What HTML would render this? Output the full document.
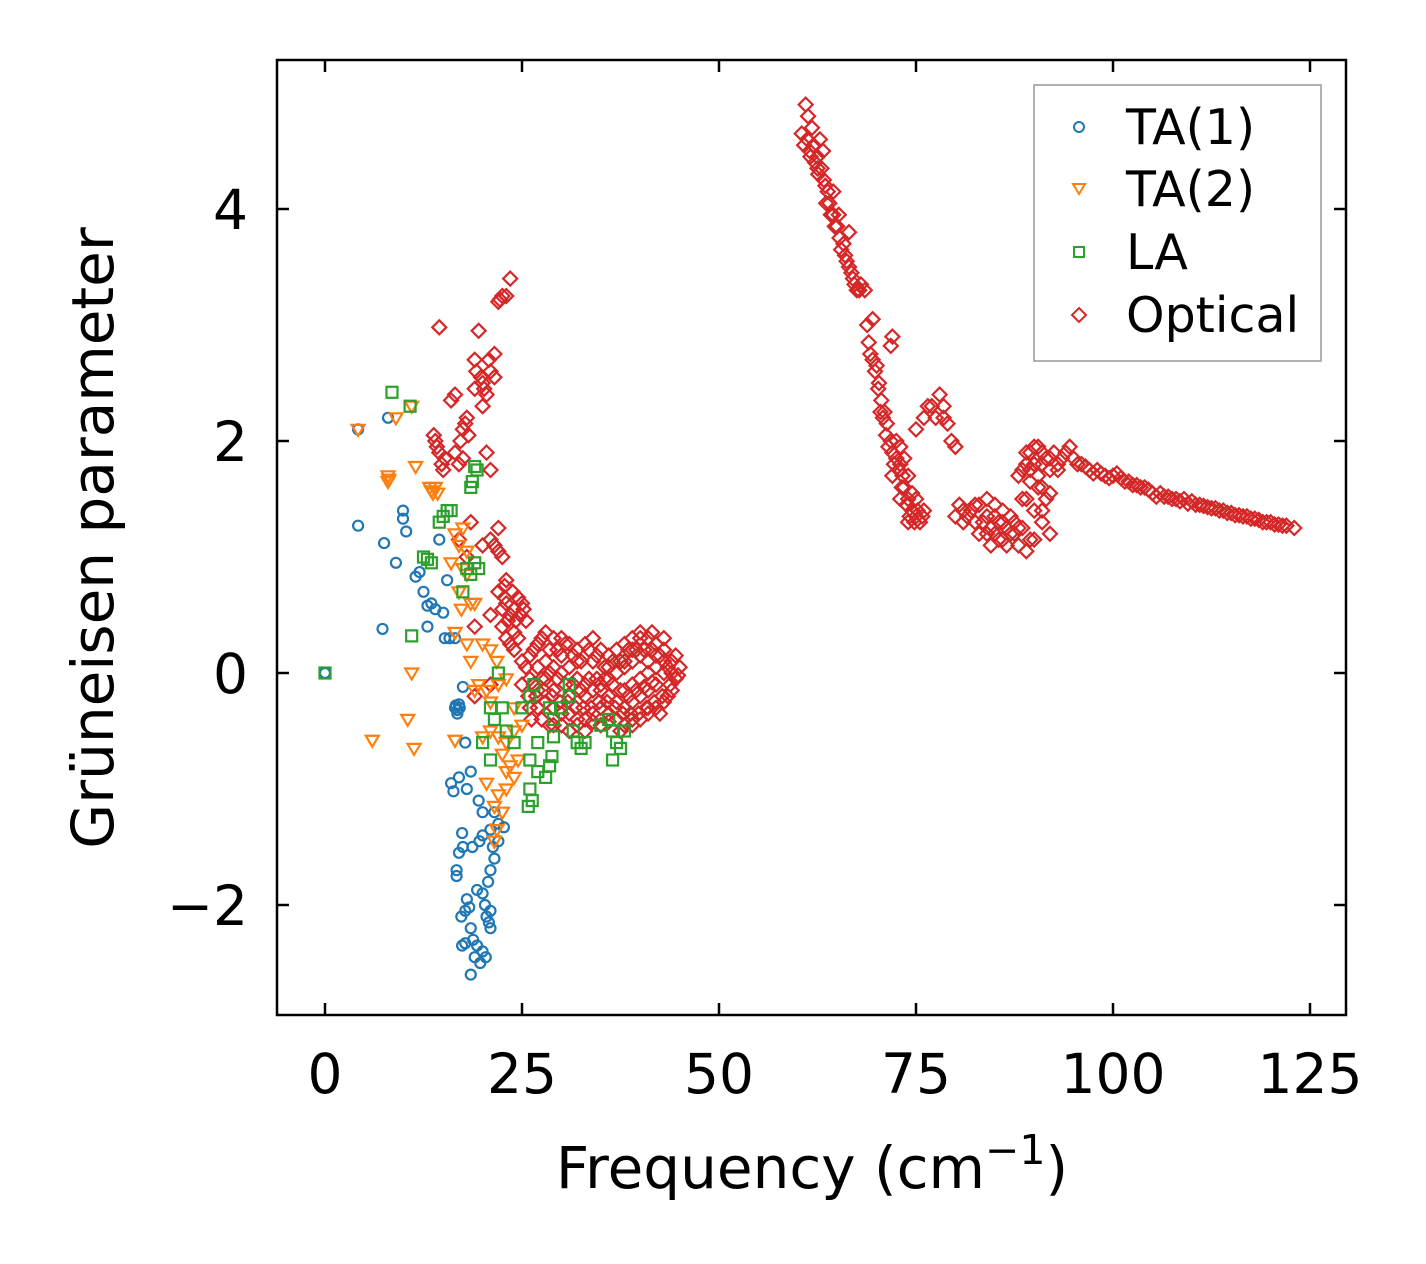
<!DOCTYPE html>
<html><head><meta charset="utf-8"><style>
body{margin:0;background:#fff}
svg{display:block}
text{font-family:"DejaVu Sans","Liberation Sans",sans-serif;fill:#000}
</style></head><body>
<svg id="chart" width="1426" height="1264" viewBox="0 0 1426 1264" xmlns="http://www.w3.org/2000/svg">
<rect x="0" y="0" width="1426" height="1264" fill="#fff"/>
<g id="marks"></g>
<rect x="277" y="60" width="1069" height="955" fill="none" stroke="#000" stroke-width="2.5"/>
<g id="axes"></g>
<text x="812" y="1188" font-size="58" text-anchor="middle">Frequency (cm<tspan dy="-24" font-size="41">−1</tspan><tspan dy="24">)</tspan></text>
<text transform="translate(113,538) rotate(-90)" font-size="58" text-anchor="middle">Grüneisen parameter</text>
<g>
<rect x="1034" y="85" width="287" height="276" fill="#fff" stroke="#999" stroke-width="1.5"/>
<circle cx="1079" cy="127" r="5" fill="none" stroke="#1f77b4" stroke-width="2"/>
<text x="1126" y="144" font-size="49">TA(1)</text>
<path d="M1073,184 L1085,184 L1079,194 Z" fill="none" stroke="#ff7f0e" stroke-width="2"/>
<text x="1126" y="206" font-size="49">TA(2)</text>
<rect x="1074" y="247" width="10" height="10" fill="none" stroke="#2ca02c" stroke-width="2"/>
<text x="1126" y="269" font-size="49">LA</text>
<path d="M1079,308 L1086,315 L1079,322 L1072,315 Z" fill="none" stroke="#d62728" stroke-width="2"/>
<text x="1126" y="332" font-size="49">Optical</text>
</g>
</svg>
<script>
const xTicks=[0,25,50,75,100,125];
const yTicks=[-2,0,2,4];
const yTickLabels=["−2","0","2","4"];
const ta1=[[0,0],[4.2,2.1],[8,2.2],[4.2,1.27],[7.5,1.12],[9,0.95],[9.9,1.4],[9.9,1.33],[10.3,1.22],[11.5,0.83],[12,0.87],[12.5,0.7],[13,0.58],[13.5,0.6],[14,0.55],[14.5,1.15],[15,0.52],[15.5,0.8],[15.2,0.3],[15.8,0.3],[16.5,0.3],[7.3,0.38],[13,0.4],[16.5,-0.3],[16.8,-0.35],[17,-0.27],[17.5,-0.12],[17.8,-0.6],[16,-0.95],[16.3,-1.02],[17,-0.9],[18.5,-0.85],[19.5,-1.1],[18,-1.0],[20,-1.2],[17.4,-1.38],[17.5,-1.5],[17,-1.55],[18.7,-1.5],[19.6,-1.45],[20,-1.4],[21,-1.35],[21.5,-1.2],[22,-1.3],[22.7,-1.33],[21.5,-1.6],[21,-1.7],[20.7,-1.8],[20,-1.9],[19.3,-1.87],[20.3,-2.0],[20.5,-2.1],[20.8,-2.15],[21,-2.2],[21,-2.05],[16.7,-1.75],[16.7,-1.7],[17.3,-2.1],[17.8,-2.05],[18.3,-2.02],[17.4,-2.35],[17.8,-2.33],[18.5,-2.2],[18.8,-2.3],[19.3,-2.35],[19,-2.45],[19.7,-2.5],[20.4,-2.45],[20,-2.4],[18.5,-2.6],[18,-1.95],[21.3,-1.5],[22,-1.45],[16.8,-0.32],[17.1,-0.3],[16.6,-0.28]];
const ta2=[[4.2,2.1],[8,1.65],[8,1.7],[9,2.2],[11,2.3],[11.5,1.78],[13.3,1.6],[13.7,1.55],[14,1.6],[14.3,1.55],[16.5,1.2],[17,1.1],[17.5,1.25],[18,1.05],[16,0.95],[17.5,0.9],[18,0.85],[17,0.7],[17.3,0.55],[18.5,0.6],[19,0.6],[16.5,0.35],[18,0.25],[20,0.25],[21,0.2],[18.5,0.1],[21.8,0.1],[11,0],[10.5,-0.4],[11.3,-0.65],[6,-0.58],[16.5,-0.58],[19.5,-0.1],[20.5,-0.15],[21,-0.25],[22,-0.1],[23,-0.05],[20,-0.55],[21,-0.5],[22,-0.55],[23,-0.6],[24,-0.5],[25,-0.45],[24,-0.3],[22.5,-0.7],[23.5,-0.8],[24,-0.9],[23,-1.0],[22,-1.05],[21.5,-1.15],[22.5,-1.2],[21.8,-1.35],[21.5,-1.45],[24.5,-0.75],[23,-0.85],[20.5,-0.95],[19,-0.15],[13.5,1.57],[8.1,1.67]];
const la=[[0,0],[8.5,2.42],[10.8,2.3],[11,0.32],[12.5,1.0],[13,0.98],[13.5,0.95],[14.5,1.3],[15,1.35],[15.5,1.4],[16,1.4],[18.5,1.6],[18.7,1.65],[19,1.78],[19.3,1.75],[18,0.9],[18.5,0.85],[19,0.95],[19.5,0.9],[17.5,0.7],[22,0],[21,-0.3],[20,-0.6],[21,-0.75],[21.5,-0.4],[22.5,-0.3],[23,-0.5],[24,-0.6],[25,-0.3],[26,-0.2],[26.5,-0.1],[26,-0.75],[26,-1.0],[26.3,-1.1],[25.8,-1.15],[27,-0.85],[28,-0.9],[28.5,-0.8],[28.8,-0.72],[27,-0.6],[29,-0.4],[30,-0.3],[31,-0.2],[31,-0.1],[31.5,-0.5],[32,-0.6],[32.5,-0.65],[33,-0.6],[35,-0.45],[36,-0.4],[36.5,-0.5],[37,-0.6],[36.5,-0.75],[37.5,-0.65],[38,-0.5],[29,-0.55],[28.5,-0.3]];
const optical=[[14.5,2.98],[16.5,2.4],[16,2.35],[14,2.0],[14.5,1.9],[15,1.75],[17,1.8],[17.5,2.1],[18,2.2],[18.2,2.05],[19,2.7],[19.5,2.95],[20,2.5],[20.5,2.4],[21,2.6],[21.5,2.75],[22,3.2],[22.5,3.25],[23.5,3.4],[20.5,1.9],[21,1.75],[20,2.3],[19,2.45],[18.5,1.3],[18,1.0],[17,1.15],[20,1.1],[21,1.15],[22,1.25],[22,1.05],[19,0.4],[21,0.5],[22,0.7],[23,0.8],[22.5,0.55],[23.5,0.5],[24.5,0.65],[25,0.6],[25.5,0.45],[24,0.35],[23,0.3],[22.5,0.4],[24,0.2],[19,-0.2],[21,-0.1],[23,0.6],[24,0.55],
[14.2,1.95],[13.8,2.05],[14.8,1.8],[15.2,1.85],[17.2,2.0],[17.8,2.15],[19.2,2.6],[19.8,2.55],[20.2,2.45],[20.8,2.7],[21.5,2.55],[22.2,3.22],[23,3.25],[22.8,0.65],[23.2,0.45],[24.2,0.45],[24.8,0.5],[22.8,0.75],[23.8,0.7],[25.2,0.55],[23.5,0.25],[24.5,0.3],[21.5,1.1],[22.5,1.0],[16.5,1.9],[17.5,1.85],
[25,0.1],[26,0.15],[27,0.25],[28,0.35],[29,0.3],[30,0.3],[31,0.25],[32,0.2],[33,0.25],[34,0.3],[35,0.2],[36,0.15],[37,0.2],[38,0.25],[39,0.3],[40,0.3],[41,0.3],[42,0.25],[43,0.2],[44,0.1],[45,0.05],[44.5,-0.05],[44,-0.15],[43,-0.25],[42,-0.3],[41,-0.35],[40,-0.4],[39,-0.45],[38,-0.45],[37,-0.4],[36,-0.35],[35,-0.3],[34,-0.35],[33,-0.4],[32,-0.4],[31,-0.35],[30,-0.35],[29,-0.3],[28,-0.25],[27,-0.3],[26,-0.3],[25,-0.1],[26,-0.05],[27,0.05],[28,0.1],[29,0.05],[30,0],[31,0.05],[32,-0.05],[33,-0.1],[34,-0.15],[35,-0.1],[36,-0.05],[37,0],[38,0.05],[39,0.1],[40,0.15],[41,0.1],[42,0.05],[43,0],[42,-0.1],[41,-0.15],[40,-0.2],[39,-0.25],[38,-0.3],[37,-0.25],[36,-0.2],[35,-0.15],[33,-0.2],[31,-0.2],[29,-0.15],[28,-0.05],[27,-0.15],[30,0.15],[32,0.1],[34,0.1],[36,0.05],[39,-0.1],[41,0],[43,0.1],[38,-0.15],[40,-0.05],[29,-0.45],[31,-0.5],[33,-0.5],[35,-0.45],
[25.5,0.05],[26.5,0.2],[27.5,0.3],[28.5,0.2],[29.5,0.2],[30.5,0.25],[31.5,0.15],[32.5,0.1],[33.5,0.2],[34.5,0.15],[35.5,0.05],[36.5,0.1],[37.5,0.1],[38.5,0.2],[39.5,0.2],[40.5,0.2],[41.5,0.2],[42.5,0.15],[43.5,0.05],[44.5,0.15],[44.8,-0.02],[43.8,-0.1],[42.8,-0.2],[41.8,-0.25],[40.8,-0.3],[39.8,-0.35],[38.8,-0.35],[37.8,-0.35],[36.8,-0.3],[35.8,-0.25],[34.8,-0.25],[33.8,-0.3],[32.8,-0.3],[31.8,-0.3],[30.8,-0.25],[29.8,-0.25],[28.8,-0.2],[27.8,-0.15],[26.8,-0.2],[25.8,-0.2],[26.2,-0.4],[27.5,-0.4],[28.5,-0.45],[30,-0.45],[32,-0.45],[34,-0.42],[36,-0.42],[37.5,-0.5],[39,-0.4],[41,-0.3],[42.5,-0.35],[43.5,-0.2],[44,0.0],[41.5,-0.08],[40.5,-0.12],[39.5,-0.15],[38.5,-0.2],[37.5,-0.15],[36.5,-0.1],[35.5,-0.05],[34.5,-0.05],[33.5,-0.05],[32.5,-0.15],[31.5,-0.1],[30.5,-0.1],[29.5,-0.05],[28.5,0.0],[27.5,-0.05],[26.5,-0.1],[42,0.15],[43,0.3],[41.5,0.35],[40,0.35],[39,0.2],[38,0.1],
[60.5,4.65],[61,4.9],[61.3,4.8],[61.8,4.7],[62,4.55],[62.5,4.45],[62.8,4.6],[63,4.35],[63.3,4.25],[63.8,4.15],[64,4.05],[64.5,3.95],[65,3.85],[65.3,3.75],[65.8,3.7],[66,3.6],[66.5,3.5],[67,3.4],[67.5,3.3],[68,3.35],[68.5,3.3],[68.8,3.0],[69,2.85],[69.5,3.05],[69.5,2.7],[70,2.65],[70.3,2.5],[70.6,2.35],[71,2.25],[71.3,2.15],[71.8,2.0],[72,1.9],[72.5,1.85],[73,1.8],[73.3,1.7],[73.5,1.6],[74,1.5],[74.5,1.4],[75,1.35],[75.5,1.3],[76,1.4],[72,2.9],[71.8,2.82],[75,2.1],[76,2.2],[77,2.3],[78,2.4],[78.5,2.3],[79,2.15],[80,1.95],[80,1.35],[81,1.3],[82,1.4],[83,1.45],[84,1.35],[84.5,1.25],[85,1.2],[85.5,1.3],[86,1.15],[86.5,1.25],[87,1.35],[87.5,1.2],[88,1.1],[88.5,1.25],[88,1.7],[89,1.8],[89.5,1.9],[90,1.95],[91,1.9],[92,1.85],[93,1.8],[94,1.9],[95,1.85],[96,1.8],[97,1.75],[98,1.75],[99,1.7],[100,1.7],[101,1.68],[102,1.65],[103,1.62],[104,1.6],[105,1.55],[106,1.55],[107,1.52],[108,1.5],[109,1.5],[110,1.48],[111,1.45],[112,1.43],[113,1.42],[114,1.4],[115,1.38],[116,1.36],[117,1.35],[118,1.33],[119,1.3],[120,1.3],[121,1.28],[122,1.27],[123,1.25],[89,1.5],[90,1.4],[91,1.3],[92,1.2],[90.5,1.6],[91.5,1.5],[89,1.05],[90,1.15],[61.5,4.5],[62.5,4.35],[64.5,4.15],[66.5,3.8],
[60.8,4.55],[61.2,4.6],[61.6,4.45],[62.2,4.4],[62.6,4.3],[63.2,4.5],[63.5,4.2],[63.6,4.05],[64.2,3.95],[64.7,3.85],[65.2,3.95],[65.5,3.65],[66.2,3.55],[66.8,3.45],[67.2,3.35],[67.8,3.3],[69.2,2.75],[69.8,2.6],[70.2,2.45],[70.5,2.25],[70.8,2.2],[71.2,2.05],[71.5,1.95],[72.2,1.8],[72.8,1.75],[73.2,1.6],[73.8,1.45],[74.2,1.35],[74.8,1.3],[75.2,1.4],[75.8,1.35],[72.5,2.0],[73,1.95],[73.5,1.85],[74,1.7],[74.5,1.55],[75,1.5],[72,1.7],[73,1.5],[74,1.3],[81.5,1.35],[82.5,1.3],[83.5,1.3],[84,1.2],[84.5,1.1],[85,1.35],[85.5,1.15],[86,1.3],[86.5,1.1],[87,1.2],[87.5,1.3],[88,1.25],[85,1.45],[86,1.4],[84,1.5],[83,1.2],[82.5,1.45],[88.5,1.75],[89,1.9],[89.5,1.75],[90,1.8],[90.5,1.95],[91,1.8],[91.5,1.85],[92,1.75],[92.5,1.9],[93,1.75],[93.5,1.85],[94.5,1.95],[95.5,1.8],[96.5,1.78],[97.5,1.72],[98.5,1.72],[99.5,1.68],[100.5,1.72],[101.5,1.65],[102.5,1.62],[103.5,1.6],[104.5,1.58],[105.5,1.52],[106.5,1.52],[107.5,1.5],[108.5,1.48],[109.5,1.46],[110.5,1.45],[111.5,1.44],[112.5,1.42],[113.5,1.4],[114.5,1.38],[115.5,1.36],[116.5,1.35],[117.5,1.33],[118.5,1.32],[119.5,1.3],[120.5,1.28],[121.5,1.27],[89.5,1.65],[90.5,1.7],[91,1.6],[92,1.55],[89.5,1.15],[91,1.4],[88.5,1.5],[76.5,2.3],[77.5,2.2],[78.5,2.2],[79.5,2.0],[80.5,1.45],[81,1.4]];

const X0=277,X1=1346,Y0=60,Y1=1015;
function sx(v){return 325+v*(1310-325)/125;}
function sy(v){return 673-v*116;}
const NS="http://www.w3.org/2000/svg";
const marks=document.getElementById('marks');
const axes=document.getElementById('axes');
function mk(tag,attrs,parent){const e=document.createElementNS(NS,tag);for(const k in attrs)e.setAttribute(k,attrs[k]);parent.appendChild(e);return e;}
optical.forEach(p=>{const x=sx(p[0]),y=sy(p[1]);
 const e=mk('path',{d:`M${x},${y-7} L${x+7},${y} L${x},${y+7} L${x-7},${y} Z`,fill:'none',stroke:'#d62728','stroke-width':2.2},marks);
 
 });
ta1.forEach(p=>{const e=mk('circle',{cx:sx(p[0]),cy:sy(p[1]),r:5,fill:'none',stroke:'#1f77b4','stroke-width':2.2},marks);
 
 });
ta2.forEach(p=>{const x=sx(p[0]),y=sy(p[1]);
 const e=mk('path',{d:`M${x-6.5},${y-4.5} L${x+6.5},${y-4.5} L${x},${y+6.5} Z`,fill:'none',stroke:'#ff7f0e','stroke-width':2.2},marks);
 
 });
la.forEach(p=>{const e=mk('rect',{x:sx(p[0])-5.5,y:sy(p[1])-5.5,width:11,height:11,fill:'none',stroke:'#2ca02c','stroke-width':2.2},marks);
 
 });
xTicks.forEach(t=>{const x=sx(t);
 mk('line',{x1:x,y1:Y1,x2:x,y2:Y1-12,stroke:'#000','stroke-width':2.5},axes);
 mk('line',{x1:x,y1:Y0,x2:x,y2:Y0+12,stroke:'#000','stroke-width':2.5},axes);
 const e=mk('text',{x:x,y:1093,'font-size':55,'text-anchor':'middle'},axes);e.textContent=String(t);
 
 });
yTicks.forEach((t,i)=>{const y=sy(t);
 mk('line',{x1:X0,y1:y,x2:X0+12,y2:y,stroke:'#000','stroke-width':2.5},axes);
 mk('line',{x1:X1,y1:y,x2:X1-12,y2:y,stroke:'#000','stroke-width':2.5},axes);
 const e=mk('text',{x:248,y:y+20,'font-size':55,'text-anchor':'end'},axes);e.textContent=yTickLabels[i];
 
 });
</script>
</body></html>
